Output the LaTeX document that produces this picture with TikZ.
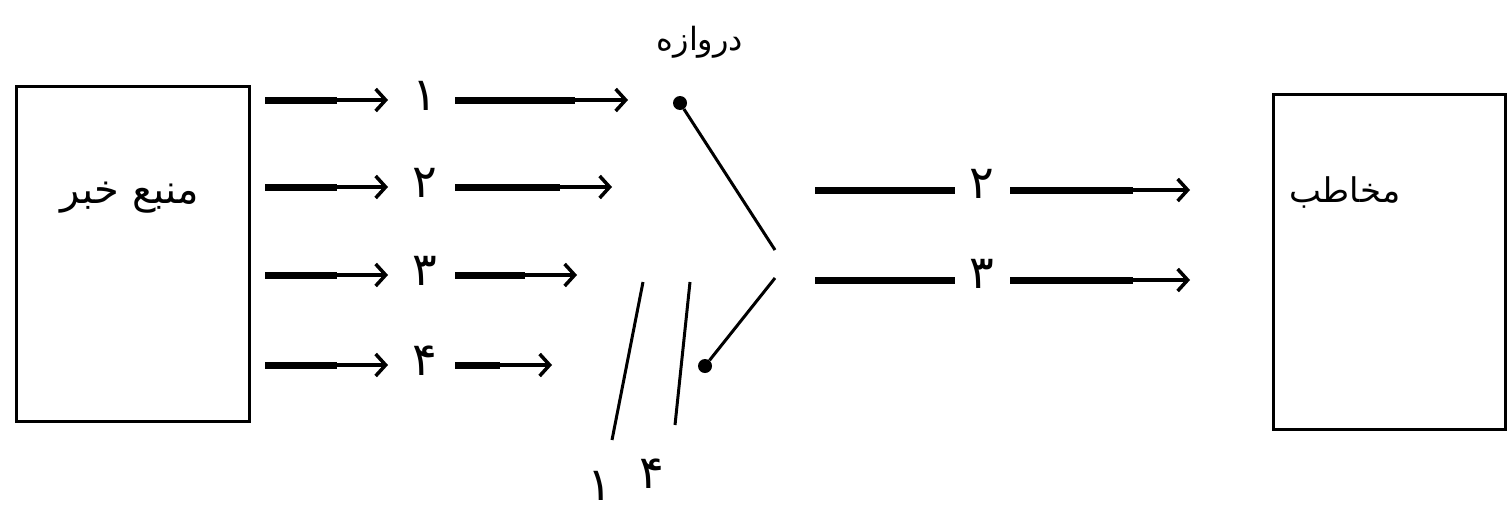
\documentclass[tikz,border=0pt]{standalone}
\usepackage{fontspec}
\usetikzlibrary{arrows.meta}
\newfontfamily\arabicfont[Script=Arabic]{DejaVu Sans}
\TeXXeTstate=1
\begin{document}
\begin{tikzpicture}[x=1pt,y=-1pt,
  thickline/.style={line width=7pt},
  thinarrow/.style={line width=3.5pt,-{Straight Barb[length=10pt,width=22pt,line width=3.5pt]}},
  boxstyle/.style={draw,line width=3pt,anchor=north west,inner sep=0pt},
  lbl/.style={font=\arabicfont\fontsize{46}{52}\selectfont,inner sep=0pt},
  bigl/.style={font=\arabicfont\fontsize{40}{46}\selectfont,inner sep=0pt},
  dotstyle/.style={circle,fill,inner sep=0pt,minimum size=14pt},
  gateline/.style={line width=3pt}]
\useasboundingbox (0,0) rectangle (1509,509);
% source box
\node[boxstyle,minimum width=233pt,minimum height=335pt] (src) at (15,85) {};
\node[bigl] (srct) at (130,198) {\beginR منبع خبر\endR};
% input rows
\foreach \y/\d/\b/\c [count=\i] in {100/۱/575/628, 187/۲/560/612, 275/۳/525/577, 365/۴/500/552}{
  \coordinate (a\i) at (265,\y);
  \coordinate (m\i) at (337,\y);
  \coordinate (e\i) at (388,\y);
  \node[lbl] (n\i) at (425,\y-4) {\d};
  \coordinate (f\i) at (455,\y);
  \coordinate (g\i) at (\b,\y);
  \coordinate (h\i) at (\c,\y);
  \draw[thickline] (a\i) -- (m\i);
  \draw[thinarrow] (m\i) -- (e\i);
  \draw[thickline] (f\i) -- (g\i);
  \draw[thinarrow] (g\i) -- (h\i);
}
% gate
\node[font=\arabicfont\fontsize{32}{38}\selectfont,inner sep=0pt] (gatet) at (700,42) {\beginR دروازه\endR};
\node[dotstyle] (d1) at (680,103) {};
\node[dotstyle] (d2) at (705,366) {};
\coordinate (p1) at (775,250);
\coordinate (p2) at (775,278);
\draw[gateline] (d1) -- (p1);
\draw[gateline] (p2) -- (d2);
\coordinate (s1a) at (643,282);
\coordinate (s1b) at (612,440);
\coordinate (s4a) at (690,282);
\coordinate (s4b) at (675,425);
\draw[gateline] (s1a) -- (s1b);
\draw[gateline] (s4a) -- (s4b);
\node[lbl] (l1) at (600,486) {۱};
\node[lbl] (l4) at (652,474) {۴};
% output rows
\foreach \y/\d [count=\i] in {190/۲, 280/۳}{
  \coordinate (oa\i) at (815,\y);
  \coordinate (ob\i) at (955,\y);
  \node[lbl] (on\i) at (982,\y-6) {\d};
  \coordinate (oc\i) at (1010,\y);
  \coordinate (od\i) at (1133,\y);
  \coordinate (oe\i) at (1190,\y);
  \draw[thickline] (oa\i) -- (ob\i);
  \draw[thickline] (oc\i) -- (od\i);
  \draw[thinarrow] (od\i) -- (oe\i);
}
% destination box
\node[boxstyle,minimum width=232pt,minimum height=335pt] (dst) at (1272,93) {};
\node[font=\arabicfont\fontsize{34}{40}\selectfont,inner sep=0pt] (dstt) at (1345,192) {\beginR مخاطب\endR};
\end{tikzpicture}
\end{document}
